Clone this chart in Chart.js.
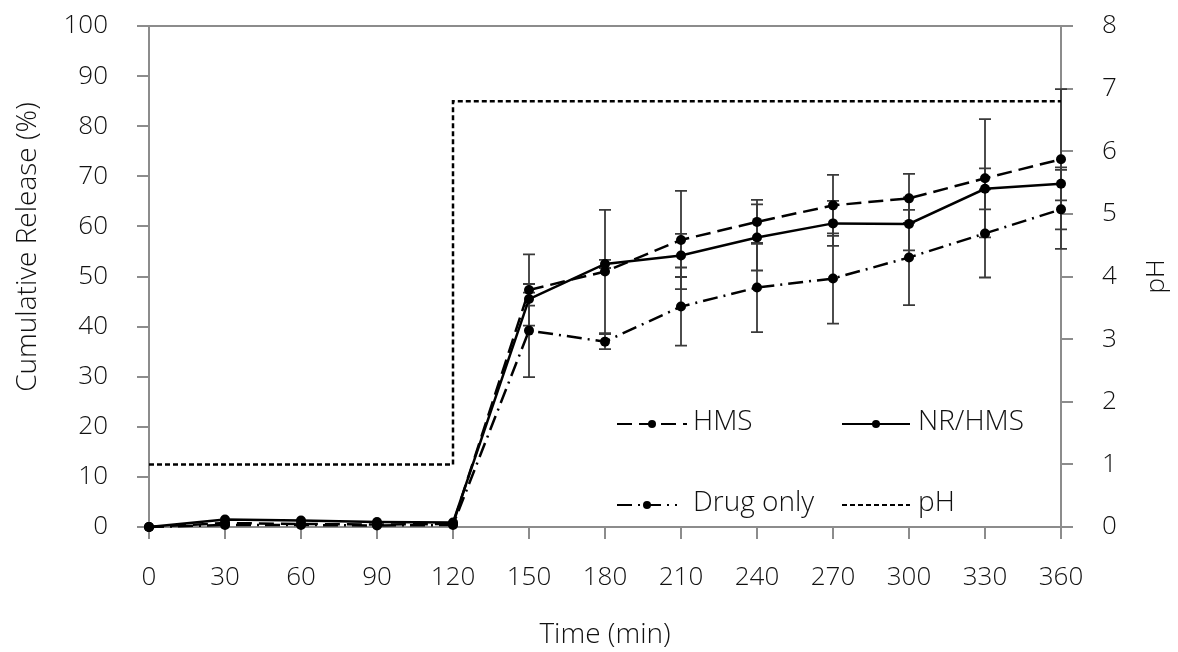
<!DOCTYPE html>
<html>
<head>
<meta charset="utf-8">
<script src="https://cdn.jsdelivr.net/npm/chart.js@4.4.0/dist/chart.umd.min.js"></script>
<style>
  html, body { margin: 0; padding: 0; background: #fff; }
  #wrap { width: 1178px; height: 652px; }
</style>
</head>
<body>
<div id="wrap"><canvas id="releaseChart"></canvas></div>
<script>
// sampling times (min)
const times = [0, 30, 60, 90, 120, 150, 180, 210, 240, 270, 300, 330, 360];

// cumulative release (%) and SD for each formulation
const hms         = [0, 0.8, 0.6, 0.5, 0.6, 47.3, 51.0, 57.3, 60.9, 64.2, 65.6, 69.6, 73.4];
const hmsErr      = [0, 0, 0, 0, 0, 7.1, 12.3, 9.8, 4.4, 6.1, 4.9, 11.8, 14.0];
const nrHms       = [0, 1.5, 1.3, 1.0, 0.9, 45.5, 52.5, 54.2, 57.8, 60.6, 60.5, 67.5, 68.5];
const nrHmsErr    = [0, 0, 0, 0, 0, 1.3, 0.8, 4.3, 6.6, 4.5, 5.3, 4.1, 3.3];
const drugOnly    = [0, 0.4, 0.4, 0.3, 0.4, 39.2, 37.0, 44.0, 47.8, 49.6, 53.8, 58.6, 63.4];
const drugOnlyErr = [0, 0, 0, 0, 0, 9.3, 1.5, 7.8, 8.9, 9.0, 9.5, 8.8, 7.9];

// medium pH: 1.0 for the first 2 h, then 6.8
const phTimes  = [0, 120, 120, 360];
const phValues = [1, 1, 6.8, 6.8];

const FONT = "'Open Sans', 'Noto Sans', sans-serif";
const AXIS_GRAY = '#8c8c8c';
const TEXT = '#111';

const toPoints = (xs, ys) => xs.map((x, i) => ({ x, y: ys[i] }));

// vertical SD bars with caps, drawn under the series
const errorBars = {
  id: 'errorBars',
  beforeDatasetsDraw(chart) {
    const { ctx } = chart;
    const xs = chart.scales.x, ys = chart.scales.y;
    ctx.save();
    ctx.strokeStyle = '#3a3a3a';
    ctx.lineWidth = 1.8;
    ctx.setLineDash([]);
    chart.data.datasets.forEach(ds => {
      if (!ds.errors) return;
      ds.data.forEach((p, i) => {
        const e = ds.errors[i];
        if (!e) return;
        const px = xs.getPixelForValue(p.x);
        const top = ys.getPixelForValue(p.y + e);
        const bot = ys.getPixelForValue(p.y - e);
        ctx.beginPath();
        ctx.moveTo(px, top); ctx.lineTo(px, bot);
        ctx.moveTo(px - 6, top); ctx.lineTo(px + 6, top);
        ctx.moveTo(px - 6, bot); ctx.lineTo(px + 6, bot);
        ctx.stroke();
      });
    });
    ctx.restore();
  }
};

// 2x2 legend inside the plot
const legendItems = [
  { ds: 0, label: 'HMS',       x: 617, y: 424, w: 70, tx: 693 },
  { ds: 1, label: 'NR/HMS',    x: 842, y: 424, w: 68, tx: 918 },
  { ds: 2, label: 'Drug only', x: 617, y: 505, w: 60, tx: 693 },
  { ds: 3, label: 'pH',        x: 842, y: 505, w: 68, tx: 918 }
];

// top frame line, both axis titles and the legend
const extras = {
  id: 'extras',
  afterDraw(chart) {
    const { ctx, chartArea: a } = chart;
    ctx.save();
    ctx.strokeStyle = AXIS_GRAY;
    ctx.lineWidth = 2;
    ctx.beginPath();
    ctx.moveTo(a.left, a.top);
    ctx.lineTo(a.right, a.top);
    ctx.stroke();

    ctx.fillStyle = TEXT;
    ctx.font = '300 28px ' + FONT;
    ctx.textAlign = 'center';
    ctx.textBaseline = 'middle';
    ctx.save();
    ctx.translate(28, 247);
    ctx.rotate(-Math.PI / 2);
    ctx.fillText('Cumulative Release (%)', 0, 0);
    ctx.restore();

    ctx.font = '300 26px ' + FONT;
    ctx.translate(1157, (a.top + a.bottom) / 2);
    ctx.rotate(-Math.PI / 2);
    ctx.fillText('pH', 0, 0);
    ctx.restore();

    legendItems.forEach(it => {
      const ds = chart.data.datasets[it.ds];
      ctx.save();
      ctx.strokeStyle = '#000';
      ctx.lineWidth = 2;
      ctx.setLineDash(ds.borderDash || []);
      ctx.beginPath();
      ctx.moveTo(it.x, it.y);
      ctx.lineTo(it.x + it.w, it.y);
      ctx.stroke();
      if (ds.pointRadius) {
        ctx.setLineDash([]);
        ctx.fillStyle = '#000';
        ctx.beginPath();
        ctx.arc(it.x + it.w / 2, it.y, 4, 0, Math.PI * 2);
        ctx.fill();
      }
      ctx.fillStyle = TEXT;
      ctx.font = '300 28px ' + FONT;
      ctx.textAlign = 'left';
      ctx.textBaseline = 'middle';
      ctx.fillText(it.label, it.tx, it.y - 2);
      ctx.restore();
    });
  }
};

const series = (label, values, errors, dash) => ({
  label,
  data: toPoints(times, values),
  errors,
  yAxisID: 'y',
  borderColor: '#000',
  backgroundColor: '#000',
  borderWidth: 2.5,
  borderDash: dash,
  pointRadius: 5,
  pointHoverRadius: 5,
  pointBackgroundColor: '#000',
  pointBorderWidth: 0,
  tension: 0,
  clip: false
});

const tickFont = { family: FONT, size: 26, weight: 300 };

// vertical axes: fixed width, no extra top/bottom room for the end labels
const fixVertical = w => s => { s.width = w; s.paddingTop = 0; s.paddingBottom = 0; };

new Chart(document.getElementById('releaseChart'), {
  type: 'line',
  data: {
    datasets: [
      series('HMS', hms, hmsErr, [15, 7]),
      series('NR/HMS', nrHms, nrHmsErr, []),
      series('Drug only', drugOnly, drugOnlyErr, [15, 6, 2, 6]),
      {
        label: 'pH',
        data: toPoints(phTimes, phValues),
        yAxisID: 'y2',
        borderColor: '#000',
        borderWidth: 2.5,
        borderDash: [5, 3],
        pointRadius: 0,
        tension: 0,
        clip: false
      }
    ]
  },
  options: {
    responsive: true,
    maintainAspectRatio: false,
    animation: false,
    layout: { padding: { top: 26, right: 0, bottom: 0, left: 0 } },
    plugins: {
      legend: { display: false },
      tooltip: { enabled: false }
    },
    scales: {
      x: {
        type: 'linear',
        min: 0,
        max: 360,
        ticks: { stepSize: 30, padding: 23, color: TEXT, font: tickFont },
        grid: { drawOnChartArea: false, color: AXIS_GRAY, lineWidth: 2, tickLength: 12 },
        border: { color: AXIS_GRAY, width: 2 },
        title: { display: true, text: 'Time (min)', color: TEXT, font: { family: FONT, size: 28, weight: 300 }, padding: 0 },
        afterFit(s) { s.height = 125; }
      },
      y: {
        position: 'left',
        min: 0,
        max: 100,
        ticks: { stepSize: 10, padding: 29, color: TEXT, font: tickFont },
        grid: { drawOnChartArea: false, color: AXIS_GRAY, lineWidth: 2, tickLength: 12 },
        border: { color: AXIS_GRAY, width: 2 },
        afterFit: fixVertical(149)
      },
      y2: {
        position: 'right',
        min: 0,
        max: 8,
        ticks: { stepSize: 1, padding: 29, color: TEXT, font: tickFont },
        grid: { drawOnChartArea: false, color: AXIS_GRAY, lineWidth: 2, tickLength: 12 },
        border: { color: AXIS_GRAY, width: 2 },
        afterFit: fixVertical(117)
      }
    }
  },
  plugins: [errorBars, extras]
});
</script>
</body>
</html>
